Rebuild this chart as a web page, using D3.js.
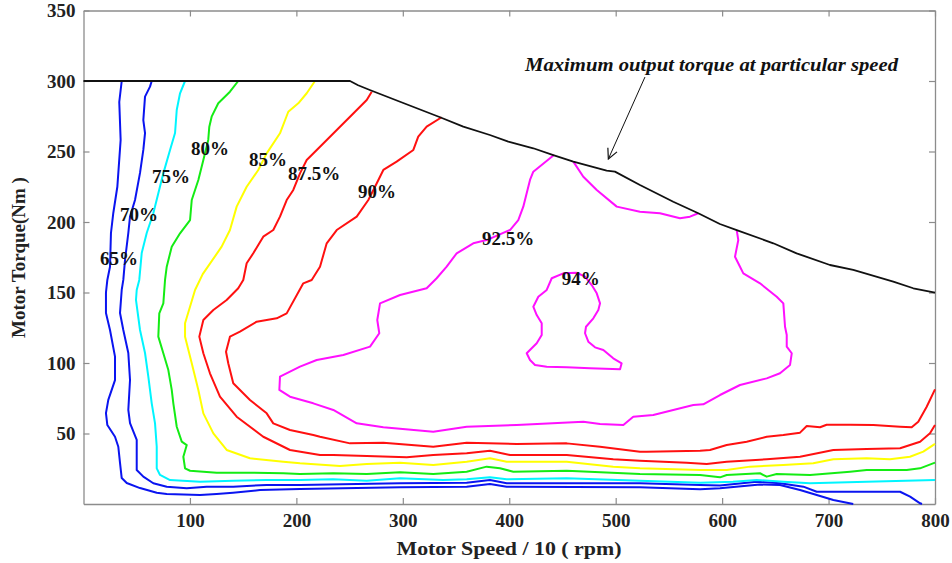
<!DOCTYPE html>
<html>
<head>
<meta charset="utf-8">
<script src="https://cdn.jsdelivr.net/npm/d3@7"></script>
<style>
  html, body { margin: 0; padding: 0; background: #fff; }
  svg { display: block; }
  text { font-family: "Liberation Serif", "Times New Roman", serif; font-weight: bold; }
</style>
</head>
<body>
<svg id="chart" width="952" height="563"></svg>
<script>
// Efficiency map of the motor: contour lines of constant efficiency
// over speed (rpm / 10) and torque (Nm).

const speedTicks = [100, 200, 300, 400, 500, 600, 700, 800];
const torqueTicks = [50, 100, 150, 200, 250, 300, 350];

// Maximum output torque envelope
const maxTorque = [[0,300],[250.4,300],[258,297],[269,293.6],[297.4,285.3],[335,274.3],[356.8,267.6],[381.8,261.7],[399.1,257],[422.6,252.3],[441.4,247.5],[460.2,242.8],[491.5,236.4],[499.3,235.7],[522.8,226.2],[554.1,214.4],[577.6,206.2],[597.9,198.6],[613.7,194.3],[648.1,184.9],[670,177.8],[701.3,169.5],[723.2,166],[760.8,157.7],[779.6,153],[800,149.9]];

const eff65 = [[35.9,300],[33.6,285.1],[34.9,258.2],[31.8,225],[28,206.4],[25.8,192.2],[24.9,168.3],[22.4,158.9],[21.1,150],[21.1,135.5],[24.9,123.4],[29.6,104.5],[29.6,87.9],[23.3,73.8],[21.1,64.5],[22.4,56],[29.6,47.7],[32.7,40.6],[34.3,29.1],[35.9,18.4],[40.6,14.9],[53.1,11.3],[68.8,8],[78.2,7.1],[109.5,6.4],[125.1,7.1],[140.5,8],[165.8,9.9],[203.4,10.6],[297.4,11.8],[360,12.3],[381.9,14.2],[397.6,12.3],[522.8,11.8],[579.3,10.4],[598,11.1],[635.6,13.8],[654.4,13.5],[673.2,9.9],[688.9,6.4],[704.5,2.8],[723.2,0]];

const eff70 = [[64.1,300],[62.5,296],[57.8,288.9],[56.2,272.3],[57.8,263.1],[56.2,251.1],[53.1,234.8],[48.4,215.6],[43.7,203.8],[42.1,192.2],[39,173],[37.4,158.9],[35.9,151.8],[34.3,135.5],[37.4,123.4],[42.1,107.1],[43.7,87.9],[42.1,66.7],[43.7,57.4],[50,45.4],[50,24.1],[56.2,19.4],[65.6,14.7],[78.2,12.3],[97,11.1],[115.7,12.3],[140.7,12.3],[172.1,13.5],[203.4,13.5],[297.4,14.7],[360,15.1],[381.9,17],[397.6,14.7],[522.8,14.7],[579.3,13.5],[598,13.1],[632.5,15.8],[654.4,14.7],[676.3,12.3],[688.9,8.7],[701.4,8.7],[767.2,8.7],[776.6,5.2],[786,0.5],[787.8,0]];

const eff75 = [[95.4,300],[90.7,291.3],[87.6,279.4],[86,263.1],[81.3,251.1],[75,234.5],[70.3,220.4],[65.6,206.2],[59.4,192.2],[54.7,178],[52.4,158.9],[50,151.8],[49.3,144.7],[53.1,123.4],[57.8,107.1],[60.9,90.3],[64.1,71.4],[67.2,57.2],[68.8,40.6],[68.8,25.3],[71.9,20.6],[81.3,17],[109.5,15.8],[140.7,16.5],[172.1,17],[203.4,17],[234.4,17.5],[266.1,16.5],[297.4,18.2],[338,17],[360,17.5],[381.9,18.9],[397.6,17.5],[454,18.2],[522.8,16.5],[579.3,15.1],[610.2,15.8],[632.5,17],[657.5,15.8],[682.6,14.7],[735.8,15.8],[800,17]];

const eff80 = [[145.4,300],[137.6,292.4],[126.6,284.2],[120.4,274.7],[118.2,267.6],[117.2,258.2],[112.6,244],[107.9,229.8],[101.7,215.6],[100.1,201.4],[90.7,192],[82.9,182.5],[78.2,168.3],[76.6,158.9],[75,142.3],[71.2,135.2],[70.3,118.7],[75,106.9],[79.7,95],[82.9,80.9],[84.4,71.4],[87.6,54.8],[92.3,44.2],[97,41.8],[93.8,33.5],[95.4,25.3],[100.1,23.6],[125.1,22.2],[156.4,22.2],[187.7,21.8],[203.4,21.3],[234.7,21.8],[266.1,21.3],[297.4,22.5],[328.6,21.3],[360,22.9],[378.8,26.5],[391.3,25.3],[403.8,22.9],[454,23.6],[522.8,21.3],[579.3,20.6],[598,18.9],[604.3,20.6],[635.6,21.8],[641.9,19.4],[651.3,21.3],[682.6,20.6],[720.2,22.9],[735.8,24.1],[773.4,24.1],[785.9,25.3],[800,29.3]];

const eff85 = [[217.5,300],[209.7,291.3],[201.8,284.2],[192.4,278.2],[184.6,262.9],[172.1,248.7],[164.2,236.9],[153.3,225],[143.9,210.9],[137.6,194.3],[129.8,182.5],[112,163],[104.8,151.8],[95.4,128.2],[95.4,118.7],[101.7,99.8],[107.9,80.9],[112.6,64.3],[122,50.1],[134.5,38.3],[156.4,32.4],[187.7,30],[203.4,28.9],[241,27],[266.1,28.4],[297.4,29.3],[328.6,27.7],[360,30],[381.9,32.4],[397.6,30],[454,30],[497.7,26.5],[522.8,25.3],[579.3,24.1],[604.3,24.1],[626.2,26.5],[657.5,27.7],[685.6,28.9],[704.5,31.7],[735.8,32.4],[757.7,31.7],[776.5,33.5],[789,37.1],[800,42.6]];

const eff875 = [[270.8,292.4],[266.1,286.5],[255.1,278.2],[241,267.6],[222.2,253.4],[209.7,244],[203.4,234.5],[197.1,222.7],[190.9,215.6],[184.6,203.8],[178.3,194.3],[168.9,189.6],[164.2,183.7],[159.5,177.8],[153.3,170.7],[150.1,158.9],[145.4,153],[134.5,144.7],[122,137.6],[112.6,130.5],[108.8,118.7],[112.6,106.9],[118.8,92.7],[128.2,76.1],[143.9,61.9],[168.9,47.7],[194,38.3],[222.2,34.8],[234.7,34.8],[266.1,34],[303.7,33.1],[328.6,34.8],[360,36],[381.9,37.8],[400.7,34.8],[454,34.8],[497.7,31.7],[522.8,30.7],[566.7,29.3],[585.5,28.4],[604.3,30],[641.9,31.7],[673.2,33.5],[704.5,38.3],[735.8,39],[767.2,39.5],[786,44.2],[795.3,50.1],[800,56]];

const eff90 = [[336.5,274.3],[322.4,267.6],[314.5,260.5],[309.9,251.1],[294.2,242.8],[281.7,236.9],[273.9,225],[267.6,215.6],[256.7,203.8],[237.9,194.3],[228.5,184.9],[222.2,168.3],[214.4,158.9],[206.5,156.5],[190.9,135.2],[181.5,131.7],[162.7,129.3],[147,122.2],[137.6,118.7],[133.9,108],[136,99.8],[140.7,85.6],[156.4,73.8],[172.1,64.3],[178.3,57.2],[194,52.5],[215.9,48.9],[222.2,47.7],[250.4,43],[281.7,43.5],[328.6,40.6],[360,43.5],[407,42.6],[454,43],[485.3,40.6],[522.8,37.1],[529.1,37.1],[579.3,37.8],[588.6,38.3],[604.3,41.8],[623.1,44.2],[641.9,47.7],[657.5,48.9],[673.2,50.6],[679.5,55.3],[692,54.4],[698.2,56.2],[720.2,56.2],[742,56],[767.2,54.8],[778.1,54.4],[784.3,58.4],[792.2,69],[800,81.3]];

const eff925a = [[442,247.5],[422.6,235.7],[419.5,229.8],[413.2,210.9],[408.5,201.4],[400.7,194.3],[378.8,187.2],[366.2,184.9],[350.6,177.8],[341.2,168.3],[331.8,160.1],[322.4,153],[297.4,148.2],[278.6,142.3],[276,130.5],[277.9,121.1],[269.2,111.6],[244.1,105.7],[219.1,102.1],[203.4,97.4],[184.6,90.3],[184,80.9],[194,76.1],[215.9,71.4],[234.7,66.7],[256.7,57.2],[281.7,54.4],[328.6,51.3],[360,54.8],[407,56],[469.6,58.4],[485.3,56.7],[507.2,56],[516.5,61.9],[535.3,63.1],[554.1,66.7],[572.9,70.2],[582.3,70.7],[598,77.3],[616.8,84.4],[641.9,89.1],[654.4,92.7],[663.8,98.6],[665.4,106.9],[660.7,111.6],[660.7,119.9],[659.1,125.7],[657.5,142.3],[651.3,147],[635.6,156.5],[619.9,163.6],[616.8,168.3],[612.1,175.4],[615.2,187.2],[613.7,194.3]];

const eff925b = [[460.2,242.8],[469.6,232.1],[482.2,222.7],[501,210.9],[522.8,207.3],[541.6,206.2],[560.4,202.6],[569.8,203.8],[577.6,206.2]];

const eff94 = [[463.4,164],[450.8,163.6],[439.9,160.1],[435.2,151.8],[427.3,147],[422.6,139.9],[425.8,134],[430.5,128.2],[430.5,119.9],[425.8,114],[416.4,106.9],[419.5,102.1],[424.2,98.6],[435.2,97.4],[454,97],[475.9,96.2],[504.1,95.5],[505.6,99.8],[497.7,103.3],[488.4,109.2],[480.6,111.1],[474.3,115.1],[471.2,121.1],[472.1,125.7],[479,131.7],[483.7,137.6],[485.3,142.3],[482.2,149.4],[477.5,155.3],[471.2,161.2],[463.4,164]];

// Contour labels: text and anchor point (speed, torque)
const labelText = ["65%", "70%", "75%", "80%", "85%", "87.5%", "90%", "92.5%", "94%"];
const labelSpeed = [15.5, 34.3, 64.4, 101.0, 155.5, 192.1, 257.9, 374.4, 449.3];
const labelTorque = [169.5, 200.7, 228.0, 247.2, 239.4, 230.1, 216.7, 184.0, 155.0];

const annotationText = "Maximum output torque at particular speed";
const annotationAt = [414.8, 307.1];
const arrowFrom = [527.5, 302.8];
const arrowTo = [493.1, 244.7];

const contours = [
  { pts: eff65,   color: "#0a14f0" },
  { pts: eff70,   color: "#0a14f0" },
  { pts: eff75,   color: "#00f5ff" },
  { pts: eff80,   color: "#14ec14" },
  { pts: eff85,   color: "#ffff00" },
  { pts: eff875,  color: "#ff1010" },
  { pts: eff90,   color: "#ff1010" },
  { pts: eff925a, color: "#ff10ff" },
  { pts: eff925b, color: "#ff10ff" },
  { pts: eff94,   color: "#ff10ff" }
];

const svg = d3.select("#chart");
const margin = { left: 83.5, right: 952 - 935, top: 10.5, bottom: 563 - 504 };
const W = 952 - margin.left - margin.right;
const H = 563 - margin.top - margin.bottom;

const x = d3.scaleLinear().domain([0, 800]).range([0, W]);
const y = d3.scaleLinear().domain([0, 350]).range([H, 0]);

const g = svg.append("g").attr("transform", `translate(${margin.left},${margin.top})`);

const frameColor = "#8c8c8c";

// Axes: ticks point inward, mirrored on top and right
const xAxis = g.append("g").attr("transform", `translate(0,${H})`)
  .call(d3.axisBottom(x).tickValues(speedTicks).tickSizeInner(-6).tickSizeOuter(0).tickPadding(10));
const yAxis = g.append("g")
  .call(d3.axisLeft(y).tickValues(torqueTicks).tickSizeInner(-6).tickSizeOuter(0).tickPadding(8));
const xTop = g.append("g")
  .call(d3.axisTop(x).tickValues(speedTicks).tickSizeInner(-6).tickSizeOuter(0).tickFormat(""));
const yRight = g.append("g").attr("transform", `translate(${W},0)`)
  .call(d3.axisRight(y).tickValues(torqueTicks).tickSizeInner(-6).tickSizeOuter(0).tickFormat(""));

[xAxis, yAxis, xTop, yRight].forEach(a => {
  a.select(".domain").attr("stroke", frameColor).attr("stroke-width", 1.3);
  a.selectAll(".tick line").attr("stroke", frameColor).attr("stroke-width", 1.2);
  a.selectAll(".tick text")
    .attr("fill", "#222")
    .style("font-size", "19px")
    .style("font-family", '"Liberation Serif", "Times New Roman", serif')
    .style("font-weight", "bold");
});

const line = d3.line().x(d => x(d[0])).y(d => y(d[1]));

// Efficiency contours
g.append("g").selectAll("path")
  .data(contours)
  .join("path")
  .attr("d", d => line(d.pts))
  .attr("fill", "none")
  .attr("stroke", d => d.color)
  .attr("stroke-width", 2)
  .attr("stroke-linejoin", "round");

// Torque envelope
g.append("path")
  .attr("d", line(maxTorque))
  .attr("fill", "none")
  .attr("stroke", "#111")
  .attr("stroke-width", 1.8)
  .attr("stroke-linejoin", "round");

// Contour labels
g.append("g").selectAll("text")
  .data(labelText)
  .join("text")
  .attr("x", (d, i) => x(labelSpeed[i]))
  .attr("y", (d, i) => y(labelTorque[i]))
  .attr("fill", "#111")
  .style("font-size", "19px")
  .text(d => d);

// Annotation with arrow
svg.append("defs").append("marker")
  .attr("id", "arrowhead")
  .attr("viewBox", "0 0 12 12")
  .attr("refX", 11).attr("refY", 6)
  .attr("markerWidth", 12).attr("markerHeight", 12)
  .attr("markerUnits", "userSpaceOnUse")
  .attr("orient", "auto")
  .append("path")
  .attr("d", "M1,1 L11,6 L1,11")
  .attr("fill", "none")
  .attr("stroke", "#111")
  .attr("stroke-width", 1.2);

g.append("line")
  .attr("x1", x(arrowFrom[0])).attr("y1", y(arrowFrom[1]))
  .attr("x2", x(arrowTo[0])).attr("y2", y(arrowTo[1]))
  .attr("stroke", "#111")
  .attr("stroke-width", 1)
  .attr("marker-end", "url(#arrowhead)");

g.append("text")
  .attr("x", x(annotationAt[0]))
  .attr("y", y(annotationAt[1]))
  .attr("fill", "#111")
  .attr("textLength", 373)
  .attr("lengthAdjust", "spacingAndGlyphs")
  .style("font-size", "19px")
  .style("font-style", "italic")
  .text(annotationText);

// Axis titles
svg.append("text")
  .attr("x", 509)
  .attr("y", 555)
  .attr("text-anchor", "middle")
  .attr("fill", "#222")
  .attr("textLength", 225)
  .attr("lengthAdjust", "spacingAndGlyphs")
  .style("font-size", "19px")
  .text("Motor Speed / 10 ( rpm)");

svg.append("text")
  .attr("transform", "translate(25,257.5) rotate(-90)")
  .attr("text-anchor", "middle")
  .attr("fill", "#222")
  .style("font-size", "19px")
  .text("Motor Torque(Nm )");
</script>
</body>
</html>
